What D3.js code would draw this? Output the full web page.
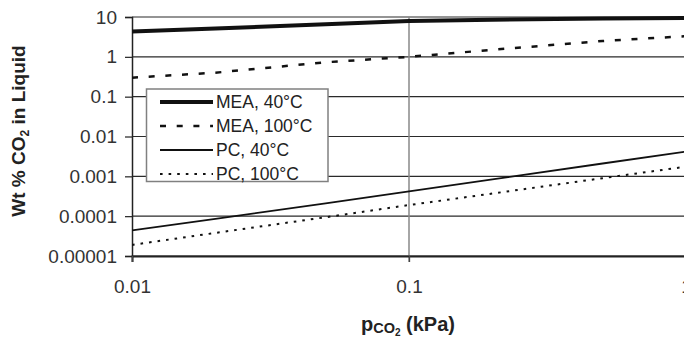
<!DOCTYPE html>
<html>
<head>
<meta charset="utf-8">
<script src="https://cdn.jsdelivr.net/npm/d3@7/dist/d3.min.js"></script>
<style>
  html, body { margin: 0; padding: 0; background: #fff; }
  svg { display: block; font-family: "Liberation Sans", Arial, sans-serif; }
</style>
</head>
<body>
<svg id="chart" width="684" height="340"></svg>
<script>
// ---- data ----
const pressures = [0.01, 0.02, 0.05, 0.1, 0.2, 0.5, 1];
const mea40  = [4.3, 5.15, 6.6, 7.9, 8.5, 9.2, 9.4];
const mea100 = [0.30, 0.40, 0.73, 1.0, 1.5, 2.5, 3.3];
const pc40   = [4.4e-5, 8.6e-5, 2.1e-4, 4.2e-4, 8.4e-4, 2.1e-3, 4.2e-3];
const pc100  = [1.9e-5, 3.8e-5, 9.4e-5, 1.9e-4, 3.7e-4, 9.0e-4, 1.75e-3];
const seriesNames = ["MEA, 40\u00B0C", "MEA, 100\u00B0C", "PC, 40\u00B0C", "PC, 100\u00B0C"];
const xTickValues = [0.01, 0.1, 1];
const xTickLabels = ["0.01", "0.1", "1"];
const yTickValues = [1e-5, 1e-4, 1e-3, 1e-2, 1e-1, 1, 10];
const yTickLabels = ["0.00001", "0.0001", "0.001", "0.01", "0.1", "1", "10"];

// ---- layout ----
const svg = d3.select("#chart");
const pL = 132, pR = 686, pT = 17, pB = 256;
const x = d3.scaleLog().domain([0.01, 1]).range([pL, pR]);
const y = d3.scaleLog().domain([1e-5, 10]).range([pB, pT]);

const styles = [
  { width: 4,   dash: null,       data: mea40 },
  { width: 2.5, dash: "6,10.7",   data: mea100 },
  { width: 1.8, dash: null,       data: pc40 },
  { width: 2,   dash: "2.6,6",    data: pc100 }
];

// horizontal gridlines
svg.append("g").selectAll("line").data(yTickValues).join("line")
  .attr("x1", pL).attr("x2", 684)
  .attr("y1", d => y(d)).attr("y2", d => y(d))
  .attr("stroke", "#2a2a2a").attr("stroke-width", 1.2);

// vertical gridline(s)
svg.append("g").selectAll("line").data(xTickValues.slice(1, 2)).join("line")
  .attr("x1", d => x(d)).attr("x2", d => x(d))
  .attr("y1", pT).attr("y2", pB + 6)
  .attr("stroke", "#888").attr("stroke-width", 1.5);

// y axis
const yAxis = svg.append("g").attr("transform", `translate(${pL},0)`)
  .call(d3.axisLeft(y).tickValues(yTickValues).tickSize(7).tickPadding(8)
    .tickFormat((d, i) => yTickLabels[i]));
yAxis.select(".domain").attr("stroke", "#222").attr("stroke-width", 1.5);
yAxis.selectAll(".tick line").attr("stroke", "#222").attr("stroke-width", 1.2);
yAxis.selectAll("text").attr("font-size", 19).attr("fill", "#333")
  .attr("font-family", "Liberation Sans, Arial, sans-serif");

// x axis
const xAxis = svg.append("g").attr("transform", `translate(0,${pB})`)
  .call(d3.axisBottom(x).tickValues(xTickValues).tickSize(6).tickPadding(18)
    .tickFormat((d, i) => xTickLabels[i]));
xAxis.select(".domain").attr("stroke", "#222").attr("stroke-width", 2);
xAxis.selectAll(".tick line").attr("stroke", "#444").attr("stroke-width", 1.3);
xAxis.selectAll("text").attr("font-size", 19).attr("fill", "#333")
  .attr("font-family", "Liberation Sans, Arial, sans-serif");

// series lines
svg.append("clipPath").attr("id", "plotclip")
  .append("rect").attr("x", pL).attr("y", pT - 4).attr("width", 684 - pL).attr("height", pB - pT + 4);
const line = d3.line().x((d, i) => x(pressures[i])).y(d => y(d));
svg.append("g").attr("clip-path", "url(#plotclip)")
  .selectAll("path").data(styles).join("path")
  .attr("d", d => line(d.data))
  .attr("fill", "none").attr("stroke", "#111")
  .attr("stroke-width", d => d.width)
  .attr("stroke-dasharray", d => d.dash);

// legend
const lg = svg.append("g");
lg.append("rect").attr("x", 146.5).attr("y", 89).attr("width", 181.5).attr("height", 92.5)
  .attr("fill", "#fff").attr("stroke", "#808080").attr("stroke-width", 1.5);
const rowsY = [102, 126, 150, 174];
seriesNames.forEach((name, i) => {
  lg.append("line").attr("x1", 160).attr("x2", 213)
    .attr("y1", rowsY[i]).attr("y2", rowsY[i])
    .attr("stroke", "#111").attr("stroke-width", styles[i].width)
    .attr("stroke-dasharray", styles[i].dash);
  lg.append("text").attr("x", 216).attr("y", rowsY[i]).attr("dy", "0.36em")
    .attr("font-size", 17.5).attr("fill", "#222").text(name);
});

// axis titles
const yt = svg.append("text").attr("transform", "translate(25,131) rotate(-90)")
  .attr("text-anchor", "middle").attr("font-size", 19).attr("font-weight", "bold").attr("fill", "#222");
yt.append("tspan").text("Wt % CO");
yt.append("tspan").attr("font-size", 12).attr("dy", 4).text("2");
yt.append("tspan").attr("dy", -4).text(" in Liquid");

const xt = svg.append("text").attr("x", 408).attr("y", 331)
  .attr("text-anchor", "middle").attr("font-size", 20).attr("font-weight", "bold").attr("fill", "#222");
xt.append("tspan").text("p");
xt.append("tspan").attr("font-size", 14.5).attr("dy", 2).text("CO");
xt.append("tspan").attr("font-size", 10).attr("dy", 3).text("2");
xt.append("tspan").attr("dy", -5).text(" (kPa)");
</script>
</body>
</html>
